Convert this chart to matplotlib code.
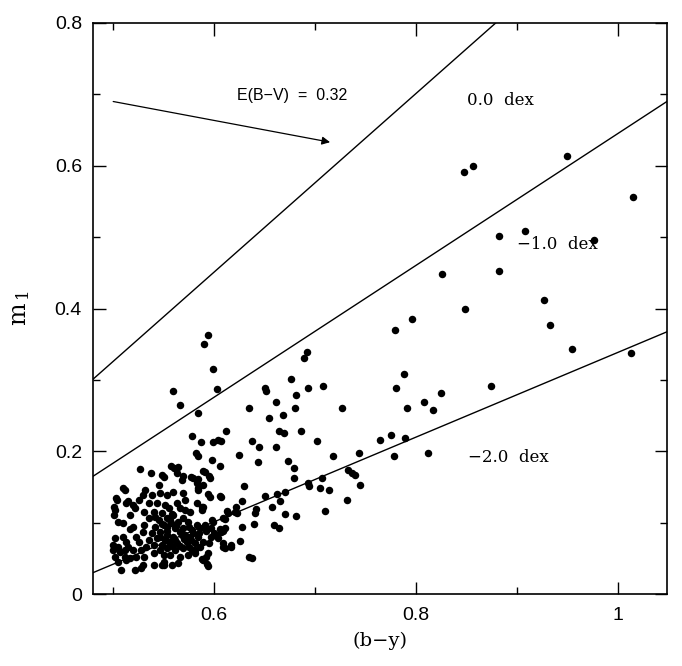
import numpy as np
import matplotlib
matplotlib.use('Agg')
import matplotlib.pyplot as plt
from matplotlib.ticker import FixedLocator

plt.rcParams['font.family'] = ['Liberation Sans', 'DejaVu Sans']
plt.rcParams['mathtext.fontset'] = 'dejavuserif'

# stars: (b-y), m1
by_sparse = [0.848, 0.857, 0.950, 1.015, 0.882, 0.908, 0.977, 0.826, 0.882, 0.849,
             0.927, 0.933, 0.796, 0.779, 0.955, 1.013, 0.788, 0.780, 0.875, 0.825,
             0.808, 0.817, 0.791, 0.775, 0.789, 0.764, 0.778, 0.812, 0.744, 0.727,
             0.718, 0.708, 0.702, 0.733, 0.737, 0.740, 0.745, 0.707, 0.705, 0.714,
             0.710, 0.732, 0.692, 0.689, 0.676, 0.693, 0.681, 0.680, 0.686, 0.661,
             0.668, 0.654, 0.664, 0.669, 0.661, 0.650, 0.651, 0.635, 0.638, 0.645,
             0.625, 0.644, 0.673, 0.679, 0.679, 0.693, 0.694, 0.670, 0.662, 0.650,
             0.630, 0.628, 0.665, 0.657, 0.681, 0.670, 0.659, 0.664, 0.622, 0.623,
             0.613, 0.609, 0.642, 0.641, 0.640, 0.638, 0.635, 0.626, 0.628, 0.617,
             0.609, 0.609, 0.606, 0.599, 0.600, 0.606, 0.606, 0.598, 0.599, 0.604,
             0.607, 0.612, 0.603, 0.599, 0.594, 0.590, 0.584, 0.566, 0.559, 0.578,
             0.587, 0.582, 0.584, 0.589, 0.595, 0.594, 0.588, 0.584, 0.584, 0.577,
             0.597, 0.595, 0.594, 0.588, 0.593, 0.597, 0.592]
m1_sparse = [0.591, 0.600, 0.614, 0.556, 0.502, 0.509, 0.496, 0.449, 0.453, 0.400,
             0.412, 0.377, 0.386, 0.370, 0.343, 0.338, 0.308, 0.288, 0.292, 0.281,
             0.269, 0.258, 0.260, 0.223, 0.219, 0.216, 0.194, 0.198, 0.197, 0.261,
             0.193, 0.292, 0.214, 0.174, 0.169, 0.167, 0.153, 0.163, 0.148, 0.146,
             0.117, 0.132, 0.339, 0.331, 0.301, 0.288, 0.279, 0.261, 0.228, 0.269,
             0.251, 0.247, 0.228, 0.225, 0.206, 0.288, 0.285, 0.260, 0.214, 0.206,
             0.195, 0.185, 0.186, 0.177, 0.162, 0.156, 0.151, 0.143, 0.140, 0.138,
             0.152, 0.130, 0.131, 0.122, 0.110, 0.112, 0.097, 0.092, 0.122, 0.114,
             0.116, 0.107, 0.119, 0.113, 0.098, 0.051, 0.052, 0.075, 0.094, 0.069,
             0.071, 0.089, 0.091, 0.101, 0.086, 0.138, 0.179, 0.188, 0.213, 0.216,
             0.214, 0.229, 0.287, 0.315, 0.363, 0.350, 0.253, 0.265, 0.285, 0.222,
             0.213, 0.197, 0.194, 0.173, 0.165, 0.140, 0.122, 0.149, 0.161, 0.164,
             0.080, 0.071, 0.057, 0.049, 0.042, 0.093, 0.089]

by_dense = [0.527, 0.537, 0.550, 0.545, 0.532, 0.512, 0.530, 0.538, 0.546, 0.504,
            0.513, 0.526, 0.535, 0.543, 0.551, 0.502, 0.522, 0.531, 0.540, 0.548,
            0.501, 0.517, 0.535, 0.545, 0.553, 0.505, 0.510, 0.520, 0.517, 0.531,
            0.541, 0.550, 0.530, 0.538, 0.546, 0.502, 0.510, 0.513, 0.523, 0.526,
            0.535, 0.543, 0.551, 0.500, 0.505, 0.515, 0.533, 0.540, 0.548, 0.500,
            0.507, 0.512, 0.520, 0.528, 0.546, 0.502, 0.512, 0.517, 0.523, 0.531,
            0.540, 0.550, 0.505, 0.513, 0.530, 0.540, 0.548, 0.508, 0.522, 0.528,
            0.550, 0.510, 0.503, 0.515, 0.520, 0.501, 0.548,
            0.564, 0.563, 0.569, 0.579, 0.583, 0.591, 0.596, 0.589, 0.584, 0.568,
            0.559, 0.569, 0.553, 0.571, 0.563, 0.583, 0.596, 0.607, 0.555, 0.566,
            0.576, 0.588, 0.589, 0.559, 0.569, 0.564, 0.556, 0.574, 0.583, 0.598,
            0.611, 0.614, 0.621, 0.553, 0.561, 0.569, 0.578, 0.586, 0.591, 0.611,
            0.607, 0.553, 0.559, 0.568, 0.576, 0.584, 0.602, 0.604, 0.555, 0.563,
            0.573, 0.581, 0.589, 0.609, 0.611, 0.617, 0.553, 0.561, 0.569, 0.578,
            0.586, 0.556, 0.566, 0.574, 0.581, 0.558, 0.550, 0.564, 0.589, 0.592,
            0.594, 0.557, 0.560,
            0.557, 0.562, 0.566, 0.571, 0.575, 0.579, 0.561, 0.570, 0.577, 0.585,
            0.553, 0.558, 0.566, 0.575, 0.581, 0.548, 0.546, 0.541, 0.558, 0.571]
m1_dense = [0.175, 0.170, 0.164, 0.153, 0.146, 0.146, 0.139, 0.139, 0.141, 0.132,
            0.127, 0.132, 0.127, 0.127, 0.125, 0.118, 0.120, 0.115, 0.115, 0.113,
            0.111, 0.111, 0.106, 0.104, 0.106, 0.101, 0.100, 0.094, 0.091, 0.097,
            0.094, 0.097, 0.087, 0.085, 0.087, 0.078, 0.080, 0.073, 0.080, 0.073,
            0.076, 0.078, 0.076, 0.069, 0.066, 0.066, 0.066, 0.069, 0.069, 0.062,
            0.059, 0.062, 0.062, 0.062, 0.062, 0.052, 0.052, 0.050, 0.052, 0.052,
            0.057, 0.055, 0.045, 0.048, 0.041, 0.041, 0.041, 0.034, 0.034, 0.036,
            0.045, 0.148, 0.134, 0.131, 0.125, 0.122, 0.167,
            0.178, 0.169, 0.165, 0.162, 0.156, 0.171, 0.162, 0.153, 0.146, 0.160,
            0.143, 0.142, 0.139, 0.132, 0.128, 0.127, 0.136, 0.136, 0.120, 0.120,
            0.115, 0.118, 0.122, 0.111, 0.107, 0.101, 0.104, 0.101, 0.097, 0.104,
            0.105, 0.114, 0.115, 0.094, 0.092, 0.092, 0.090, 0.092, 0.097, 0.092,
            0.087, 0.083, 0.080, 0.083, 0.080, 0.080, 0.083, 0.078, 0.073, 0.071,
            0.073, 0.071, 0.073, 0.066, 0.064, 0.066, 0.064, 0.062, 0.064, 0.062,
            0.066, 0.055, 0.052, 0.055, 0.057, 0.041, 0.041, 0.043, 0.048, 0.052,
            0.039, 0.180, 0.176,
            0.100, 0.096, 0.087, 0.083, 0.094, 0.086, 0.076, 0.077, 0.076, 0.085,
            0.088, 0.068, 0.068, 0.066, 0.062, 0.098, 0.080, 0.108, 0.112, 0.118]

# iso-metallicity lines (end points)
line_x = [0.48, 1.05]
iso_00 = [0.301, 1.0135]
iso_m10 = [0.165, 0.691]
iso_m20 = [0.030, 0.368]

# reddening vector
red_start = (0.500, 0.690)
red_end = (0.715, 0.633)

xticks = [0.6, 0.8, 1.0]
xticklabels = ['0.6', '0.8', '1']
yticks = [0, 0.2, 0.4, 0.6, 0.8]
yticklabels = ['0', '0.2', '0.4', '0.6', '0.8']

fig = plt.figure(figsize=(6.82, 6.66), dpi=100)
ax = fig.add_axes([0.1364, 0.108, 0.8416, 0.8575])

ax.plot(by_sparse + by_dense, m1_sparse + m1_dense, 'o', color='black', ms=5.4, mew=0)

for iso in [iso_00, iso_m10, iso_m20]:
    ax.plot(line_x, iso, color='black', lw=1.0)

ax.annotate('', xy=red_end, xytext=red_start,
            arrowprops=dict(arrowstyle='-|>', color='black', lw=0.9,
                            mutation_scale=12, shrinkA=0, shrinkB=0))

ax.text(0.677, 0.699, 'E(B\u2212V)  =  0.32', fontsize=11.5, ha='center', va='center',
        weight='medium')
serif = ['DejaVu Serif']
ax.text(0.851, 0.691, '0.0  dex', fontsize=12, ha='left', va='center', family=serif)
ax.text(0.900, 0.490, '\u22121.0  dex', fontsize=12, ha='left', va='center', family=serif)
ax.text(0.852, 0.192, '\u22122.0  dex', fontsize=12, ha='left', va='center', family=serif)

ax.set_xlim(0.48, 1.049)
ax.set_ylim(0, 0.8)

ax.xaxis.set_major_locator(FixedLocator(xticks))
ax.xaxis.set_minor_locator(FixedLocator([0.5, 0.7, 0.9]))
ax.yaxis.set_major_locator(FixedLocator(yticks))
ax.yaxis.set_minor_locator(FixedLocator([0.1, 0.3, 0.5, 0.7]))
ax.set_xticklabels(xticklabels)
ax.set_yticklabels(yticklabels)

ax.tick_params(which='both', direction='in', top=True, right=True, labelsize=14, width=1.0)
ax.tick_params(which='major', length=9)
ax.tick_params(which='minor', length=5)
ax.tick_params(axis='x', pad=9)
ax.tick_params(axis='y', pad=8)
for sp in ax.spines.values():
    sp.set_linewidth(1.2)

ax.set_xlabel('(b\u2212y)', fontsize=14, family=serif, labelpad=6)
ax.set_ylabel(r'$\mathrm{m}_{\,1}$', fontsize=17, labelpad=16)

fig.savefig('out.png', dpi=100)
